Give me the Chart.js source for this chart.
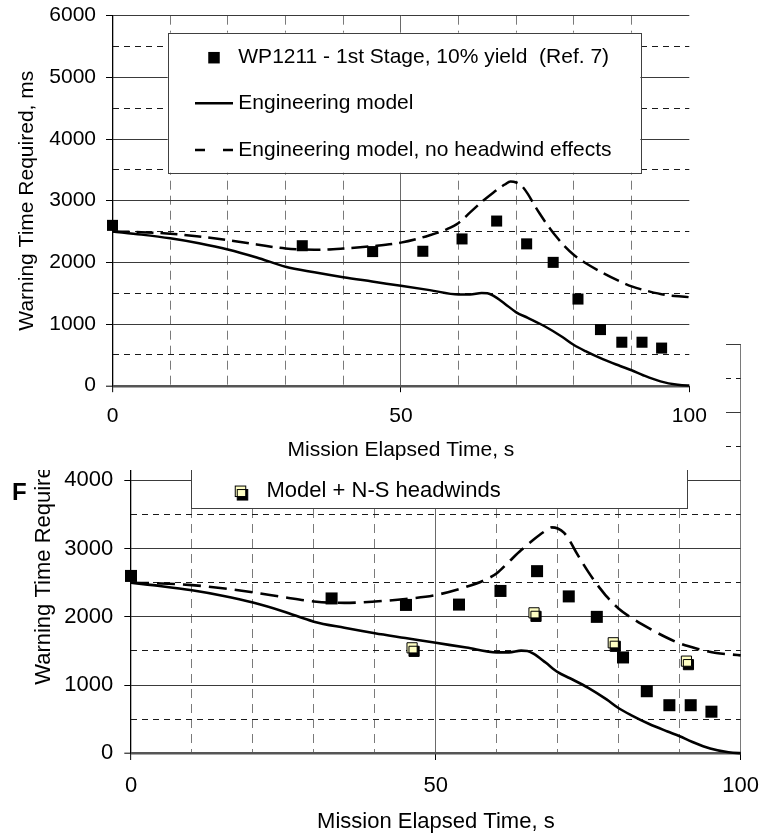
<!DOCTYPE html>
<html>
<head>
<meta charset="utf-8">
<script src="https://cdn.jsdelivr.net/npm/chart.js@4.4.1/dist/chart.umd.min.js"></script>
<style>
  body { margin: 0; background: #fff; }
  #wrap { position: relative; width: 766px; height: 833px; overflow: hidden; }
  #wrap canvas { position: absolute; left: 0; top: 0; }
</style>
</head>
<body>
<div id="wrap">
  <canvas id="chartBottom" width="766" height="833"></canvas>
  <canvas id="chartTop" width="726" height="470"></canvas>
</div>
<script>
// values
var seriesLabels = ['WP1211 - 1st Stage, 10% yield  (Ref. 7)', 'Engineering model',
  'Engineering model, no headwind effects', 'Model + N-S headwinds'];

var testTime = [0, 32.9, 45.1, 53.8, 60.6, 66.6, 71.8, 76.4, 80.7, 84.6, 88.3, 91.8, 95.2];
var testWarning = [2600, 2270, 2175, 2180, 2380, 2670, 2300, 2000, 1405, 910, 705, 705, 610];

var modelTime = [0, 5, 10, 15, 20, 25, 30, 35, 40, 45, 50, 55, 60, 62, 64, 65, 66, 68, 70, 72, 75, 78, 80, 82, 85, 88, 90, 92, 95, 98, 100, 101];
var modelWarning = [2500, 2450, 2390, 2310, 2210, 2080, 1930, 1840, 1760, 1690, 1620, 1550, 1480, 1480, 1505, 1500, 1460, 1330, 1190, 1100, 960, 790, 660, 560, 430, 320, 250, 170, 70, 15, 2, 0];

var noWindTime = [0, 5, 10, 15, 20, 25, 30, 35, 40, 45, 50, 55, 58, 60, 62, 64, 66, 67, 68, 69, 70, 71, 72, 73, 74, 75, 76, 77, 78, 80, 82, 85, 88, 90, 93, 96, 100, 101];
var noWindWarning = [2500, 2490, 2465, 2420, 2360, 2290, 2225, 2205, 2225, 2262, 2320, 2440, 2540, 2640, 2810, 2980, 3130, 3200, 3262, 3312, 3295, 3235, 3110, 2950, 2800, 2660, 2530, 2410, 2300, 2120, 1990, 1830, 1690, 1610, 1530, 1470, 1435, 1420];

var nsTime = [46.1, 66.1, 79.1, 91.1];
var nsWarning = [1546, 2059, 1620, 1351];

var xTicks = [0, 50, 100];
var yTicks = [0, 1000, 2000, 3000, 4000, 5000, 6000];

var fontFamily = "'Liberation Sans', Arial, sans-serif";

function pts(xs, ys) {
  return xs.map(function (x, i) { return { x: x, y: ys[i] }; });
}

// white page behind the upper chart so it hides the lower one
var paperWhite = {
  id: 'paperWhite',
  beforeDraw: function (chart, args, opts) {
    if (!opts.on) return;
    var ctx = chart.ctx;
    ctx.save();
    ctx.fillStyle = '#fff';
    ctx.fillRect(0, 0, chart.width, chart.height);
    ctx.restore();
  }
};

// black drop shadow on the yellow markers
var markerShadow = {
  id: 'markerShadow',
  beforeDatasetDraw: function (chart, args) {
    var ds = chart.data.datasets[args.index];
    if (!ds.shadowOffset) return;
    var ctx = chart.ctx;
    ctx.save();
    ctx.shadowColor = '#000';
    ctx.shadowBlur = 0;
    ctx.shadowOffsetX = ds.shadowOffset[0];
    ctx.shadowOffsetY = ds.shadowOffset[1];
  },
  afterDatasetDraw: function (chart, args) {
    if (chart.data.datasets[args.index].shadowOffset) chart.ctx.restore();
  }
};

// boxed legend placed inside the plot, like the spreadsheet one
var boxLegend = {
  id: 'boxLegend',
  afterDatasetsDraw: function (chart, args, opts) {
    var ctx = chart.ctx;
    var b = opts.box;
    ctx.save();
    ctx.fillStyle = '#fff';
    ctx.fillRect(b[0], b[1], b[2] - b[0], b[3] - b[1]);
    ctx.strokeStyle = '#404040';
    ctx.lineWidth = 1;
    ctx.strokeRect(Math.round(b[0]) + 0.5, Math.round(b[1]) + 0.5, Math.round(b[2] - b[0]), Math.round(b[3] - b[1]));
    ctx.font = opts.fontSize + 'px ' + fontFamily;
    ctx.textBaseline = 'middle';
    ctx.textAlign = 'left';
    chart.data.datasets.forEach(function (ds, i) {
      var y = opts.rows[i];
      var mx = opts.markX;
      if (ds.showLine === false) {
        var s = opts.markSize;
        ctx.save();
        if (ds.shadowOffset) {
          ctx.shadowColor = '#000';
          ctx.shadowOffsetX = ds.shadowOffset[0];
          ctx.shadowOffsetY = ds.shadowOffset[1];
        }
        ctx.fillStyle = ds.pointBackgroundColor;
        ctx.fillRect(mx - s / 2, y - s / 2, s, s);
        if (ds.pointBorderWidth) {
          ctx.strokeStyle = ds.pointBorderColor;
          ctx.lineWidth = ds.pointBorderWidth;
          ctx.strokeRect(mx - s / 2, y - s / 2, s, s);
        }
        ctx.restore();
      } else {
        ctx.save();
        ctx.strokeStyle = ds.borderColor;
        ctx.lineWidth = ds.borderWidth;
        ctx.setLineDash(ds.borderDash ? opts.sampleDash : []);
        ctx.beginPath();
        ctx.moveTo(mx - opts.sampleHalf, y);
        ctx.lineTo(mx + opts.sampleHalf, y);
        ctx.stroke();
        ctx.restore();
      }
      ctx.fillStyle = '#000';
      ctx.fillText(ds.label, opts.textX, y);
    });
    ctx.restore();
  }
};

// stray bold letter left of the lower chart
var cornerMark = {
  id: 'cornerMark',
  afterDraw: function (chart, args, opts) {
    if (!opts.text) return;
    var ctx = chart.ctx;
    ctx.save();
    ctx.font = 'bold ' + opts.size + 'px ' + fontFamily;
    ctx.fillStyle = '#000';
    ctx.textBaseline = 'alphabetic';
    ctx.fillText(opts.text, opts.x, opts.y);
    ctx.restore();
  }
};

function makeConfig(p) {
  var datasets = [
    {
      label: seriesLabels[0], data: pts(testTime, testWarning), showLine: false,
      pointStyle: 'rect', pointRadius: p.pointR, pointBackgroundColor: '#000',
      pointBorderColor: '#000', pointBorderWidth: 0, clip: false, order: 1
    },
    {
      label: seriesLabels[1], data: pts(modelTime, modelWarning), borderColor: '#000',
      borderWidth: p.lineW, pointRadius: 0, cubicInterpolationMode: 'monotone', clip: false, order: 2
    },
    {
      label: seriesLabels[2], data: pts(noWindTime, noWindWarning), borderColor: '#000',
      borderWidth: p.lineW, borderDash: p.dash, pointRadius: 0, cubicInterpolationMode: 'monotone',
      clip: false, order: 3
    }
  ];
  if (p.withNS) {
    datasets.push({
      label: seriesLabels[3], data: pts(nsTime, nsWarning), showLine: false,
      pointStyle: 'rect', pointRadius: p.nsR, pointBackgroundColor: '#ffffc4',
      pointBorderColor: '#000', pointBorderWidth: 1, shadowOffset: [2, 3.5], clip: false, order: 0
    });
  }

  return {
    type: 'line',
    data: { datasets: datasets },
    plugins: [paperWhite, markerShadow, boxLegend, cornerMark],
    options: {
      responsive: false,
      animation: false,
      events: [],
      layout: { padding: p.pad },
      scales: {
        x: {
          type: 'linear', min: 0, max: 100,
          afterFit: function (s) { s.height = p.xAxisH; },
          ticks: {
            stepSize: 10, autoSkip: false, maxRotation: 0, padding: 0, color: '#000',
            // tall line box pushes the labels down without widening the side padding
            font: { family: fontFamily, size: p.font, lineHeight: p.xLabelLH + 'px' },
            callback: function (v) { return xTicks.indexOf(v) >= 0 ? v : ''; }
          },
          grid: {
            color: function (c) {
              var v = c.tick ? c.tick.value : 0;
              if (v === 0) return '#000';
              if (v === 50) return '#6a6a6a';
              if (v === 100) return p.rightEdge;
              return '#7a7a7a';
            },
            lineWidth: function (c) { return c.tick && c.tick.value === 0 ? 1.3 : 1; },
            tickLength: p.tickLen,
            tickWidth: 1,
            tickColor: function (c) { return c.tick && xTicks.indexOf(c.tick.value) >= 0 ? '#000' : 'rgba(0,0,0,0)'; }
          },
          border: {
            display: false,
            dash: function (c) { return c.tick && c.tick.value % 50 !== 0 ? [9, 6] : []; }
          },
          title: {
            display: true, text: 'Mission Elapsed Time, s', color: '#000',
            font: { family: fontFamily, size: p.font, lineHeight: 1 },
            padding: { top: 0, bottom: p.xTitlePad }
          }
        },
        y: {
          min: 0, max: 6000,
          afterFit: function (s) { s.width = p.yAxisW; },
          ticks: {
            stepSize: 500, padding: p.yTickPad, color: '#000',
            font: { family: fontFamily, size: p.font, lineHeight: 0.5 },
            callback: function (v) { return yTicks.indexOf(v) >= 0 ? v : ''; }
          },
          grid: {
            color: function (c) {
              var v = c.tick ? c.tick.value : 0;
              if (v === 0) return '#555';
              if (yTicks.indexOf(v) >= 0) return '#3a3a3a';
              return '#1a1a1a';
            },
            lineWidth: function (c) { return c.tick && c.tick.value === 0 ? 2.4 : 1; },
            tickLength: p.tickLen,
            tickWidth: 1,
            tickColor: function (c) { return c.tick && yTicks.indexOf(c.tick.value) >= 0 ? '#000' : 'rgba(0,0,0,0)'; }
          },
          border: {
            display: false,
            dash: function (c) { return c.tick && yTicks.indexOf(c.tick.value) < 0 ? [6, 5] : []; }
          },
          title: {
            display: true, text: 'Warning Time Required, ms', color: '#000',
            font: { family: fontFamily, size: p.font },
            padding: { top: p.yTitlePad, bottom: 0 }
          }
        }
      },
      plugins: {
        legend: { display: false },
        tooltip: { enabled: false },
        paperWhite: { on: p.white },
        boxLegend: p.legend,
        cornerMark: p.mark
      }
    }
  };
}

// lower chart (drawn first, partly hidden by the upper one)
new Chart(document.getElementById('chartBottom').getContext('2d'), makeConfig({
  withNS: true, white: false, font: 22, pointR: 8.5, nsR: 7.2, lineW: 2.6, dash: [18, 8],
  pad: { left: 0, top: 344, right: 25.3, bottom: 0 },
  yAxisW: 131, xAxisH: 79.7, tickLen: 6.7, xLabelLH: 52.6, yTickPad: 11,
  xTitlePad: 0, yTitlePad: 30.8, rightEdge: '#7a7a7a',
  legend: {
    box: [191, 310, 687, 508], rows: [337.7, 388.9, 440.1, 491.3],
    markX: 240.5, textX: 266.5, fontSize: 22, markSize: 10.5, sampleHalf: 20, sampleDash: [10, 19]
  },
  mark: { text: 'F', size: 24, x: 12, y: 500 }
}));

// upper chart
new Chart(document.getElementById('chartTop').getContext('2d'), makeConfig({
  withNS: false, white: true, font: 21, pointR: 7.8, lineW: 2.5, dash: [17, 7],
  pad: { left: 0, top: 15.7, right: 36.7, bottom: 0 },
  yAxisW: 112.5, xAxisH: 84.3, tickLen: 6.5, xLabelLH: 47.6, yTickPad: 10,
  xTitlePad: 9.5, yTitlePad: 14.4, rightEdge: 'rgba(0,0,0,0)',
  legend: {
    box: [167.7, 32.7, 640.4, 172.7], rows: [57.7, 103.3, 150],
    markX: 214, textX: 238.3, fontSize: 21, markSize: 11.5, sampleHalf: 19, sampleDash: [10, 18]
  },
  mark: {}
}));
</script>
</body>
</html>
